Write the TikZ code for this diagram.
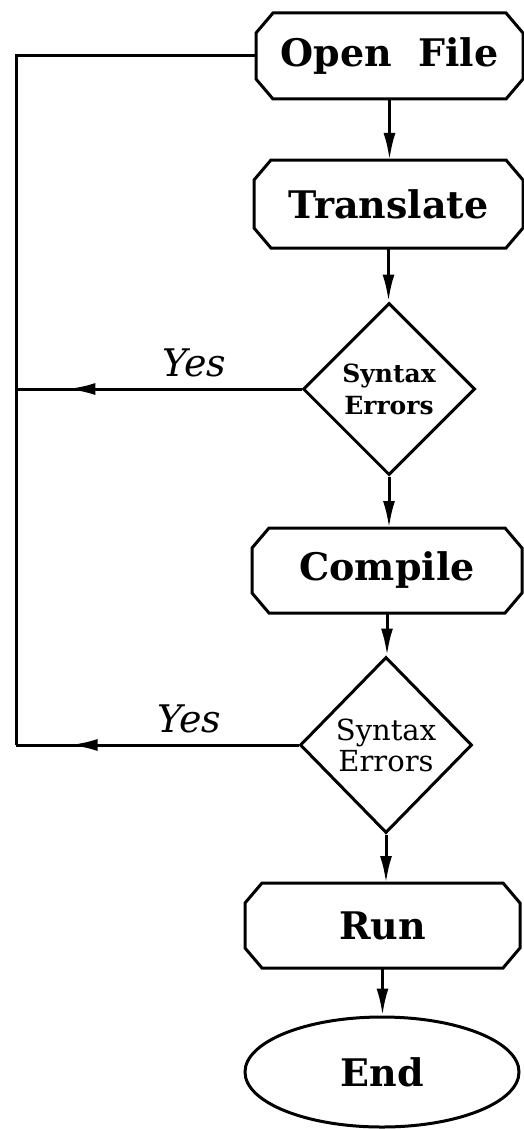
\documentclass[tikz,border=0pt]{standalone}
\usepackage{fontspec}
\setmainfont{DejaVu Serif}
\usetikzlibrary{arrows.meta,shapes.geometric,decorations.markings}

\tikzset{
  flowtip/.style={-{Latex[length=27pt,width=12pt]}},
  procbox/.style={rectangle, draw=none, outer sep=0pt, inner sep=0pt,
    font=\fontsize{38}{40}\selectfont\bfseries},
  decision/.style={diamond, draw, inner sep=0pt, align=center},
  terminal/.style={ellipse, draw, inner sep=0pt,
    font=\fontsize{38}{40}\selectfont\bfseries},
  yeslabel/.style={anchor=south, inner sep=0pt, yshift=10pt,
    font=\fontsize{38}{40}\selectfont\itshape},
  midarrow/.style={decoration={markings,
      mark=at position #1 with {\arrow{Latex[length=28pt,width=12pt]}}},
    postaction={decorate}},
  chamfer x/.store in=\chx, chamfer x=17pt,
  chamfer y/.store in=\chy, chamfer y=20pt,
}

\begin{document}
\begin{tikzpicture}[x=1pt, y=-1pt, line width=3pt, line join=miter]
  \useasboundingbox (0,0) rectangle (524,1129);

  % process steps (outline drawn below with cut corners)
  \node[procbox, minimum width=267pt, minimum height=86pt] (open)  at (389.5,56)  {Open~~File};
  \node[procbox, minimum width=269pt, minimum height=88pt] (trans) at (388.5,204) {Translate};
  \node[procbox, minimum width=270pt, minimum height=85pt] (comp)  at (387,570.5) {Compile};
  \node[procbox, minimum width=275pt, minimum height=85pt] (run)   at (382.5,925.5) {Run};

  \foreach \n in {open,trans,comp,run}
    \draw ([xshift=\chx]\n.north west) -- ([xshift=-\chx]\n.north east)
      -- ([yshift=-\chy]\n.north east) -- ([yshift=\chy]\n.south east)
      -- ([xshift=-\chx]\n.south east) -- ([xshift=\chx]\n.south west)
      -- ([yshift=\chy]\n.south west) -- ([yshift=-\chy]\n.north west) -- cycle;

  % decisions
  \node[decision, minimum width=172pt, minimum height=172pt,
        font=\fontsize{25}{32}\selectfont\bfseries] (d1) at (389,389) {Syntax\\Errors};
  \node[decision, minimum width=172pt, minimum height=176pt,
        font=\fontsize{29}{31}\selectfont] (d2) at (386,745) {Syntax\\Errors};

  % end
  \node[terminal, minimum width=274pt, minimum height=110pt] (end) at (382,1072) {End};

  % main flow, kept vertical below each source
  \draw[flowtip] (open.south) -- (open.south |- trans.north);
  \draw[flowtip] (trans.south) -- (trans.south |- d1.north);
  \draw[flowtip] (d1.south) -- (d1.south |- comp.north);
  \draw[flowtip] (comp.south) -- (comp.south |- d2.north);
  \draw[flowtip] (d2.south) -- (d2.south |- run.north);
  \draw[flowtip] (run.south) -- (run.south |- end.north);

  % return path to the start
  \coordinate (corner) at (16,745);
  \draw (open.west) -| (corner);
  \draw[midarrow=0.82] (d1.west) -- node[yeslabel, pos=0.376] {Yes} (d1.west -| corner);
  \draw[midarrow=0.81] (d2.west) -- node[yeslabel, pos=0.387] {Yes} (corner);
\end{tikzpicture}
\end{document}
